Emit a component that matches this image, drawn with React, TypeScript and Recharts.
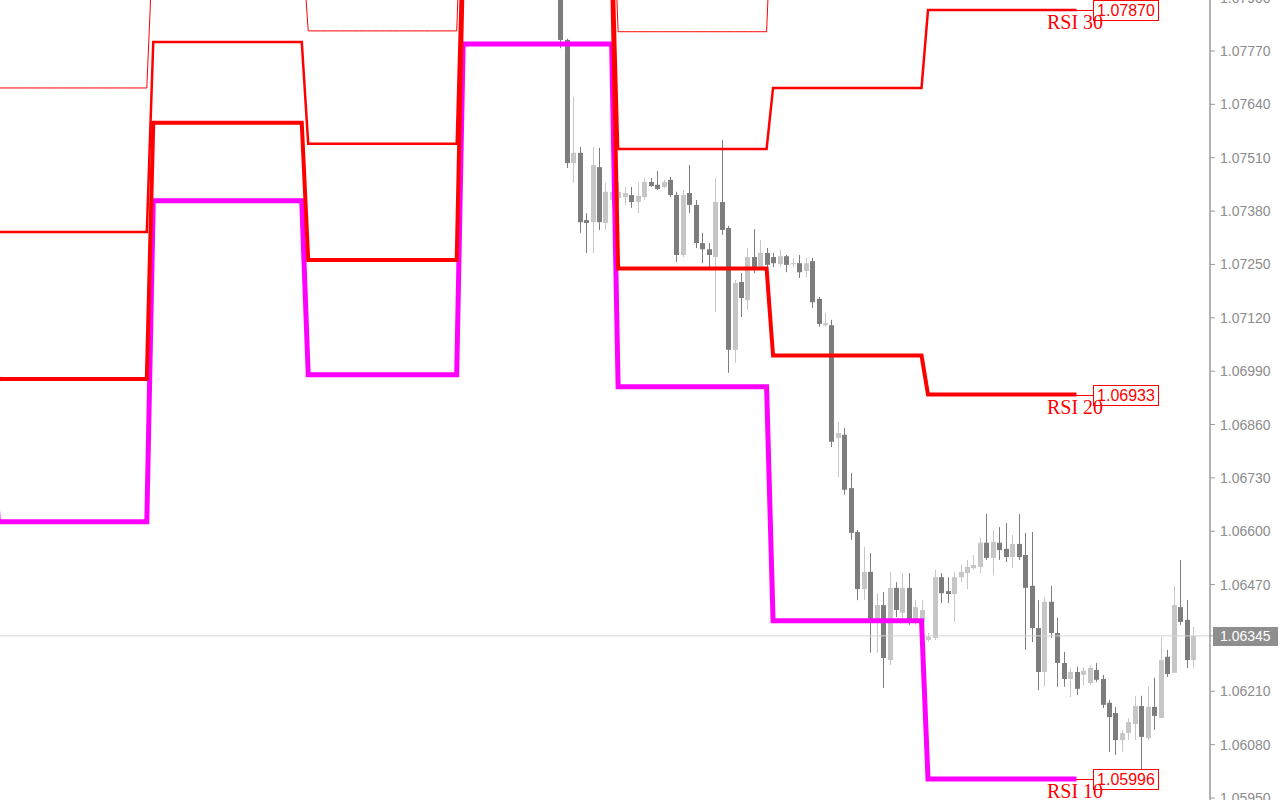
import React from 'react';
import { ComposedChart, Line, Bar, XAxis, YAxis, ReferenceLine } from 'recharts';

// ---- layout constants (bar indices) ----
const BARS_PER_DAY = 24;
const FIRST_LINE_BAR = -1;
const LAST_LINE_BAR = 167;
const FIRST_CANDLE_BAR = 87;
const LAST_BAR = 185;

// ---- daily step levels: [previous day, day0 .. day6] ----
const rsi10Levels = [1.0685, 1.06623, 1.07405, 1.06981, 1.07787, 1.06952, 1.06382, 1.05996];
const rsi20Levels = [1.0718, 1.06971, 1.07595, 1.07261, 1.08, 1.0724, 1.07028, 1.06933];
const rsi30Levels = [1.075, 1.07329, 1.07792, 1.07544, 1.0812, 1.07531, 1.0768, 1.0787];
const rsi40Levels = [1.0775, 1.0768, 1.0805, 1.07819, 1.0825, 1.07817, 1.082, 1.0835];

// ---- candles (H1) ----
const opens = [
  1.08, 1.07797, 1.07497, 1.07522, 1.07358, 1.07353, 1.07487, 1.07351, 1.07407, 1.07412,
  1.07414, 1.07419, 1.07402, 1.07414, 1.07451, 1.07444, 1.07439, 1.07456, 1.07419, 1.07273,
  1.07424, 1.07395, 1.07302, 1.07287, 1.07268, 1.07402, 1.07339, 1.07042, 1.07207, 1.07163,
  1.07268, 1.07244, 1.07278, 1.07268, 1.07251, 1.0727, 1.07251, 1.07253, 1.07234, 1.07258,
  1.07166, 1.07102, 1.07102, 1.06827, 1.06835, 1.06705, 1.06598, 1.06459, 1.06501, 1.06384,
  1.0642, 1.06286, 1.06462, 1.06401, 1.06462, 1.06384, 1.06379, 1.06335, 1.0634, 1.06488,
  1.06454, 1.06447, 1.06488, 1.06498, 1.0651, 1.06513, 1.06572, 1.06535, 1.06572, 1.06557,
  1.06537, 1.06569, 1.06542, 1.06467, 1.06364, 1.06257, 1.06428, 1.06352, 1.06279, 1.0624,
  1.06257, 1.0625, 1.0623, 1.06262, 1.0624, 1.06182, 1.06157, 1.06091, 1.06108, 1.0613,
  1.06174, 1.06096, 1.06172, 1.06145, 1.06294, 1.06255, 1.06415, 1.06384, 1.06286,
];
const highs = [
  1.0802, 1.078, 1.07658, 1.07536, 1.07375, 1.07536, 1.07534, 1.07449, 1.07444, 1.07451,
  1.07439, 1.07439, 1.07449, 1.07461, 1.07461, 1.07478, 1.07456, 1.07463, 1.07427, 1.07431,
  1.07492, 1.07407, 1.07327, 1.07302, 1.07461, 1.07553, 1.07344, 1.07212, 1.07229, 1.0729,
  1.07336, 1.0731, 1.0729, 1.07278, 1.07287, 1.07273, 1.07266, 1.07273, 1.07266, 1.07266,
  1.07171, 1.07132, 1.07115, 1.06866, 1.06852, 1.06742, 1.06603, 1.06562, 1.06547, 1.06449,
  1.06452, 1.06501, 1.06476, 1.06498, 1.06498, 1.06432, 1.06432, 1.06352, 1.06506, 1.06498,
  1.06488, 1.06501, 1.06518, 1.0653, 1.06542, 1.06584, 1.06642, 1.06603, 1.0661, 1.0662,
  1.06591, 1.06642, 1.06596, 1.06598, 1.06432, 1.0644, 1.06467, 1.06389, 1.06306, 1.06267,
  1.0627, 1.06267, 1.06274, 1.06279, 1.0625, 1.06189, 1.06172, 1.06116, 1.06145, 1.06199,
  1.06199, 1.06221, 1.06243, 1.06343, 1.06311, 1.06467, 1.0653, 1.06432, 1.06367,
];
const lows = [
  1.07777, 1.07485, 1.07449, 1.07327, 1.07278, 1.07278, 1.07334, 1.07334, 1.07395, 1.07395,
  1.07395, 1.07388, 1.07375, 1.07407, 1.07439, 1.07431, 1.07436, 1.07414, 1.07256, 1.07268,
  1.07375, 1.0729, 1.07253, 1.07244, 1.07134, 1.07322, 1.06986, 1.0701, 1.07122, 1.07139,
  1.07229, 1.07241, 1.07241, 1.07244, 1.07244, 1.07231, 1.07244, 1.07217, 1.07219, 1.07144,
  1.07098, 1.07098, 1.06805, 1.06732, 1.06689, 1.06579, 1.06432, 1.06432, 1.06304, 1.06304,
  1.06218, 1.06274, 1.06391, 1.06384, 1.06372, 1.06372, 1.06377, 1.0633, 1.06335, 1.06425,
  1.06425, 1.06379, 1.06476, 1.06459, 1.06506, 1.06498, 1.0653, 1.06493, 1.0653, 1.06525,
  1.0651, 1.0653, 1.06311, 1.0633, 1.06213, 1.06221, 1.0634, 1.06221, 1.06221, 1.06196,
  1.06201, 1.06225, 1.06225, 1.06233, 1.06169, 1.06062, 1.06055, 1.06062, 1.06091, 1.06091,
  1.06018, 1.06091, 1.06116, 1.06145, 1.06245, 1.06255, 1.06372, 1.06267, 1.06267,
];
const closes = [
  1.07797, 1.07497, 1.07522, 1.07353, 1.07351, 1.07492, 1.07353, 1.07427, 1.07427, 1.07427,
  1.07424, 1.07402, 1.07417, 1.07451, 1.07441, 1.07434, 1.07451, 1.07419, 1.07273, 1.07419,
  1.07395, 1.07302, 1.07287, 1.07273, 1.07402, 1.07334, 1.07042, 1.07205, 1.07168, 1.07268,
  1.07244, 1.07278, 1.07249, 1.07253, 1.0727, 1.07249, 1.07253, 1.07231, 1.07253, 1.07158,
  1.07105, 1.07107, 1.06818, 1.06839, 1.06701, 1.06596, 1.06459, 1.06501, 1.06384, 1.0642,
  1.06291, 1.06462, 1.06408, 1.06462, 1.06384, 1.06415, 1.06408, 1.06343, 1.06488, 1.06449,
  1.06447, 1.06488, 1.06501, 1.06513, 1.06518, 1.06572, 1.06535, 1.06574, 1.06554, 1.06537,
  1.06569, 1.06537, 1.06462, 1.06364, 1.06257, 1.06428, 1.06352, 1.06279, 1.0624, 1.06257,
  1.06216, 1.0626, 1.06267, 1.06238, 1.06177, 1.06147, 1.06091, 1.06108, 1.06135, 1.06174,
  1.06099, 1.06172, 1.0615, 1.06286, 1.06252, 1.0642, 1.06379, 1.06286, 1.06345,
];

const CURRENT_PRICE = 1.06345;
const PRICE_TICKS = [
  1.079, 1.0777, 1.0764, 1.0751, 1.0738, 1.0725, 1.0712, 1.0699, 1.0686, 1.0673,
  1.066, 1.0647, CURRENT_PRICE, 1.0621, 1.0608, 1.0595,
];
const Y_DOMAIN: [number, number] = [1.059451, 1.078943];
const X_DOMAIN: [number, number] = [0.26, 187.68];

// ---- build the table ----
type Row = { [k: string]: any };
const data: Row[] = [];
for (let i = FIRST_LINE_BAR; i <= LAST_BAR; i++) {
  const row: Row = { i };
  if (i <= LAST_LINE_BAR) {
    const b = i < 0 ? 0 : Math.floor(i / BARS_PER_DAY) + 1;
    row.rsi10 = rsi10Levels[b];
    row.rsi20 = rsi20Levels[b];
    row.rsi30 = rsi30Levels[b];
    row.rsi40 = rsi40Levels[b];
  }
  if (i >= FIRST_CANDLE_BAR) {
    const j = i - FIRST_CANDLE_BAR;
    row.o = opens[j];
    row.h = highs[j];
    row.l = lows[j];
    row.c = closes[j];
    row.range = [lows[j], highs[j]];
  }
  data.push(row);
}
const LAST_LINE_INDEX = LAST_LINE_BAR - FIRST_LINE_BAR;

const DARK = '#7d7d7d';
const LIGHT = '#c6c6c6';
const AXIS_COLOR = '#8c8c8c';

const Candle = (props: any) => {
  const { x, y, width, height, payload } = props;
  if (!payload || payload.o == null || x == null || y == null) return <g />;
  const top = Math.min(y, y + height);
  const bot = Math.max(y, y + height);
  const { o, h, l, c } = payload;
  const toY = (v: number) => top + ((h - v) / (h - l)) * (bot - top);
  const cx = Math.round(x + width / 2);
  const up = c >= o;
  const color = up ? LIGHT : DARK;
  const bTop = toY(Math.max(o, c));
  const bBot = toY(Math.min(o, c));
  return (
    <g>
      <rect x={cx} y={top} width={1} height={bot - top} fill={color} />
      <rect x={cx - 2} y={bTop} width={5} height={Math.max(1, bBot - bTop)} fill={color} />
    </g>
  );
};

const PriceTick = (props: any) => {
  const { x, y, payload } = props;
  const v = payload.value as number;
  if (Math.abs(v - CURRENT_PRICE) < 1e-9) {
    return (
      <g>
        <rect x={x - 7} y={Math.round(y) - 9} width={65} height={19} fill="#8e8e8e" />
        <text x={x} y={y} dy="0.36em" fill="#ffffff" fontFamily="Liberation Sans, Arial, sans-serif" fontSize={14}>
          {v.toFixed(5)}
        </text>
      </g>
    );
  }
  return (
    <text x={x} y={y} dy="0.36em" fill={AXIS_COLOR} fontFamily="Liberation Sans, Arial, sans-serif" fontSize={14}>
      {v.toFixed(5)}
    </text>
  );
};

const makeEndLabel = (name: string, key: string) => (props: any) => {
  const { cx, cy, index, payload } = props;
  if (index !== LAST_LINE_INDEX || cx == null || cy == null || !payload) {
    return <g key={`${key}-${index}`} />;
  }
  const value = payload[key] as number;
  const lx = Math.round(cx);
  const ly = Math.round(cy);
  const boxX = lx + 17.5;
  return (
    <g key={`${key}-end`}>
      <line x1={lx} y1={ly + 0.5} x2={boxX} y2={ly + 0.5} stroke="#ff0000" strokeWidth={1} />
      <rect x={boxX} y={ly - 9.5} width={65} height={20} fill="#ffffff" stroke="#ff0000" strokeWidth={1} />
      <text x={boxX + 32.5} y={ly} dy="0.36em" textAnchor="middle" fill="#ff0000" fontFamily="Liberation Sans, Arial, sans-serif" fontSize={16}>
        {value.toFixed(5)}
      </text>
      <text x={lx - 29} y={ly + 19} fill="#ff0000" fontFamily="Liberation Serif, Times New Roman, serif" fontSize={20}>
        {name}
      </text>
    </g>
  );
};

export default function App() {
  return (
    <div style={{ position: 'fixed', left: 0, top: 0, width: 1280, height: 800, background: '#ffffff' }}>
      <ComposedChart width={1280} height={800} data={data} margin={{ top: 0, right: 0, bottom: 0, left: 0 }}>
        <XAxis dataKey="i" type="number" domain={X_DOMAIN} allowDataOverflow hide />
        <YAxis
          orientation="right"
          type="number"
          width={70}
          domain={Y_DOMAIN}
          allowDataOverflow
          ticks={PRICE_TICKS}
          interval={0}
          tickSize={5}
          tickMargin={5}
          axisLine={{ stroke: '#9a9a9a', strokeWidth: 1.5 }}
          tickLine={{ stroke: '#9a9a9a' }}
          tick={<PriceTick />}
        />
        <ReferenceLine y={CURRENT_PRICE} stroke="#d4d4d4" strokeWidth={1} />
        <Bar dataKey="range" barSize={5} shape={<Candle />} isAnimationActive={false} />
        <Line type="linear" dataKey="rsi10" stroke="#ff00ff" strokeWidth={5} dot={makeEndLabel('RSI 10', 'rsi10')} activeDot={false} isAnimationActive={false} />
        <Line type="linear" dataKey="rsi20" stroke="#ff0000" strokeWidth={4} dot={makeEndLabel('RSI 20', 'rsi20')} activeDot={false} isAnimationActive={false} />
        <Line type="linear" dataKey="rsi30" stroke="#ff0000" strokeWidth={2.5} dot={makeEndLabel('RSI 30', 'rsi30')} activeDot={false} isAnimationActive={false} />
        <Line type="linear" dataKey="rsi40" stroke="#ff0000" strokeWidth={1} dot={false} activeDot={false} isAnimationActive={false} />
      </ComposedChart>
    </div>
  );
}
